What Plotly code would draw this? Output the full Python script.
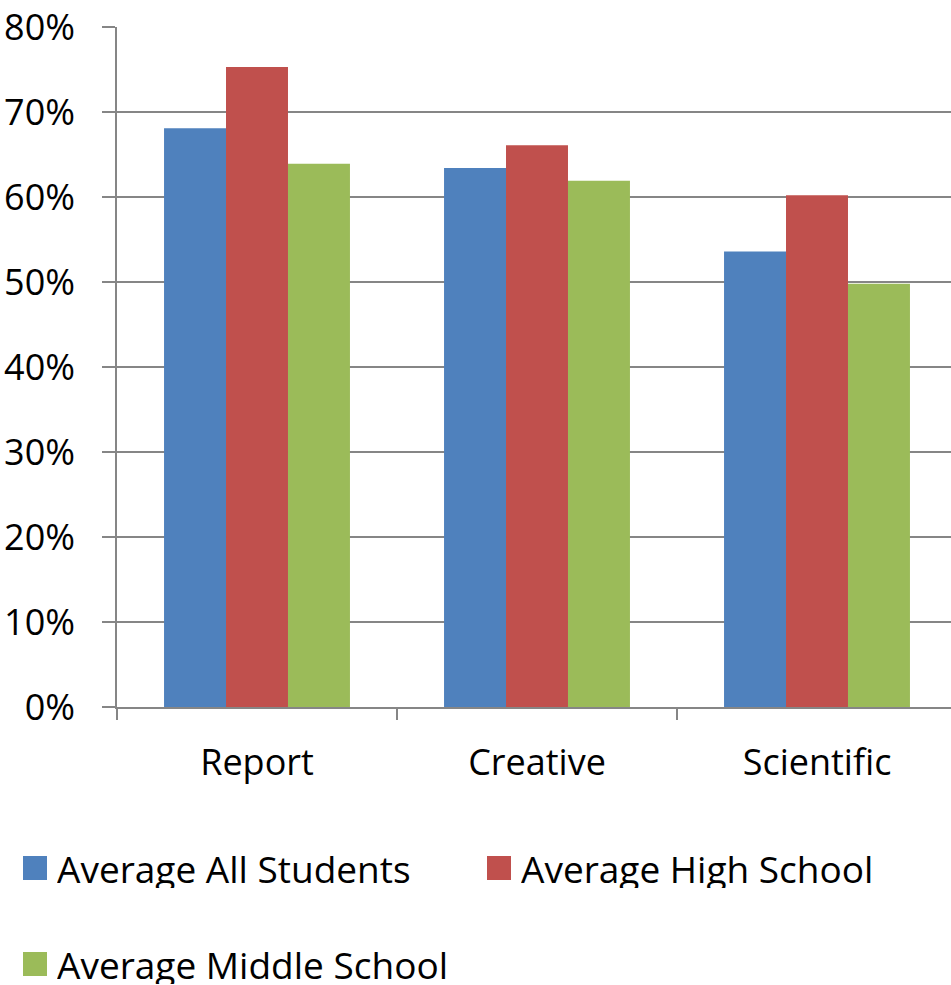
import plotly.graph_objects as go

# Share of students per writing type, by group
categories = ["Report", "Creative", "Scientific"]
series_names = ["Average All Students", "Average High School", "Average Middle School"]
all_students = [68.1, 63.4, 53.6]
high_school = [75.3, 66.1, 60.2]
middle_school = [63.9, 61.9, 49.8]
y_ticks = [0, 10, 20, 30, 40, 50, 60, 70, 80]
y_tick_labels = [f"{v}%" for v in y_ticks]

colors = ["#4F81BD", "#C0504D", "#9BBB59"]
values = [all_students, high_school, middle_school]

FONT = "Open Sans"
W, H = 951, 985
M_L, M_R, M_T, M_B = 117, 0, 27, 278
GRID = "#868686"

fig = go.Figure()
for name, vals, col in zip(series_names, values, colors):
    fig.add_trace(go.Bar(
        x=categories, y=vals, name=name,
        marker=dict(color=col, line=dict(width=0)),
        showlegend=False,
    ))

# Each category spans 280 px; the plot is clipped at the right page edge
plot_w = W - M_L - M_R
cat_px = 280.0
x_hi = -0.5 + plot_w / cat_px

fig.update_layout(
    width=W, height=H,
    margin=dict(l=M_L, r=M_R, t=M_T, b=M_B),
    paper_bgcolor="white", plot_bgcolor="white",
    barmode="group", bargap=0.336, bargroupgap=0,
    font=dict(family=FONT, size=36, color="black"),
    xaxis=dict(
        range=[-0.5, x_hi], showgrid=False,
        showline=True, linecolor=GRID, linewidth=1.5,
        ticks="outside", tickson="boundaries", ticklen=11,
        tickcolor=GRID, tickwidth=1.5,
        tickfont=dict(family=FONT, size=36),
        ticklabelstandoff=23,
    ),
    yaxis=dict(
        range=[0, 80], tickvals=y_ticks, ticktext=y_tick_labels,
        showgrid=True, gridcolor=GRID, gridwidth=1.5,
        showline=True, linecolor=GRID, linewidth=1.5,
        ticks="outside", ticklen=13, tickcolor=GRID, tickwidth=1.5,
        tickfont=dict(family=FONT, size=36),
        ticklabelstandoff=20, zeroline=False,
    ),
)

# Legend: colour swatch plus label for each series
legend_pos = [(23, 868), (487, 868), (23, 964)]
for (px, py), name, col in zip(legend_pos, series_names, colors):
    yf = (H - M_B - py) / (H - M_T - M_B)
    fig.add_shape(
        type="rect", xref="paper", yref="paper",
        xsizemode="pixel", ysizemode="pixel",
        xanchor=(px - M_L) / plot_w, yanchor=yf,
        x0=0, x1=24, y0=-12, y1=12,
        fillcolor=col, line=dict(width=0),
    )
    fig.add_annotation(
        xref="paper", yref="paper",
        x=(px + 32 - M_L) / plot_w, y=yf,
        xanchor="left", yanchor="middle", showarrow=False,
        height=40, valign="middle",
        text=name, font=dict(family=FONT, size=37, color="black"),
    )

fig.write_html("out.html")
